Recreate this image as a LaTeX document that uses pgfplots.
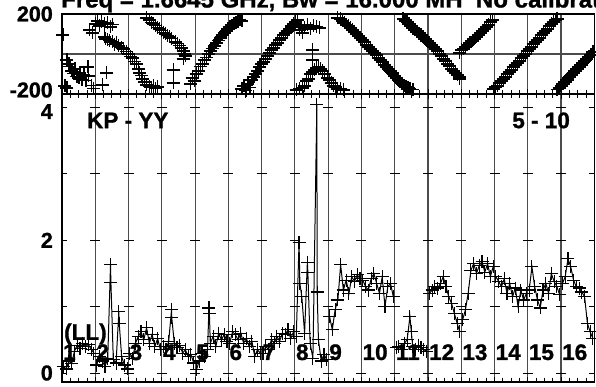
\documentclass[border=0pt]{standalone}
\usepackage{pgfplots}
\pgfplotsset{compat=1.18}
\usepackage{pgfplotstable}
\usepackage{fontspec}
\setmainfont{Liberation Sans}[BoldFeatures={FakeBold=1.2}]
\newcommand\lbl{\fontsize{22.5pt}{22.5pt}\selectfont\bfseries}
\newcommand\tck{\fontsize{21.5pt}{21.5pt}\selectfont\bfseries}
\newcommand\ttl{\fontsize{24pt}{24pt}\selectfont\bfseries}

\pgfplotstableread{
x y
0.03 95
0.09 -160
0.15 -30
0.15 -170
0.21 -50
0.24 -62
0.30 -85
0.36 -98
0.39 -75
0.45 -112
0.51 -120
0.54 -95
0.60 -127
0.66 -105
0.72 -132
0.78 -65
0.81 -110
0.90 -158
0.96 -172
0.84 120
0.93 105
1.02 150
1.08 165
1.14 140
1.20 160
1.29 150
1.38 155
1.47 135
1.53 147
1.23 -155
1.35 -95
1.32 75
1.29 85
1.38 72
1.44 68
1.53 60
1.59 48
1.65 55
1.71 40
1.80 33
1.86 25
1.95 12
2.01 0
2.07 -12
2.13 -20
2.19 -37
2.25 -50
2.31 -75
2.34 -95
2.40 -108
2.43 -125
2.49 -140
2.55 -155
2.62 -162
2.68 -166
2.74 -158
2.80 -172
2.86 -165
3.34 -80
3.34 -145
2.55 180
2.62 170
2.68 158
2.74 150
2.80 142
2.86 133
2.92 125
2.98 117
3.04 108
3.10 100
3.16 93
3.22 85
3.28 78
3.40 60
3.46 52
3.52 43
3.58 30
3.64 15
3.67 0
3.70 -10
3.64 -25
3.85 -150
3.91 -120
3.97 -135
4.03 -100
4.09 -85
4.15 -62
4.21 -50
4.27 -30
4.33 -18
4.39 0
4.45 15
4.51 27
4.57 40
4.63 55
4.69 68
4.75 80
4.81 95
4.87 105
4.93 117
4.99 125
5.05 135
5.11 142
5.17 150
5.23 157
5.29 162
5.35 170
5.41 165
5.41 -175
5.47 -160
5.53 -182
5.59 -150
5.65 -166
5.71 -130
5.77 -115
5.83 -100
5.89 -85
5.95 -65
6.01 -50
6.07 -40
6.13 -25
6.19 -10
6.25 5
6.31 20
6.37 30
6.43 45
6.49 55
6.55 70
6.61 80
6.67 95
6.73 105
6.79 115
6.85 125
6.91 140
6.97 150
7.03 160
7.09 170
6.94 135
7.03 150
7.15 120
7.21 140
7.30 130
7.39 145
7.48 125
7.57 140
7.66 135
7.75 130
7.24 105
7.54 20
7.54 -30
7.06 -180
7.15 -172
7.24 -170
7.30 -160
7.36 -135
7.42 -125
7.48 -100
7.54 -90
7.60 -80
7.66 -70
7.72 -65
7.78 -75
7.84 -85
7.90 -100
7.97 -120
8.03 -130
8.09 -145
8.15 -160
8.21 -165
8.27 -175
8.36 -175
8.45 -180
8.27 180
8.36 175
8.42 165
8.48 155
8.54 145
8.60 140
8.66 130
8.72 120
8.78 110
8.84 100
8.90 90
8.96 80
9.02 70
9.08 60
9.14 45
9.20 35
9.26 25
9.32 15
9.38 5
9.44 -5
9.50 -20
9.56 -30
9.62 -40
9.68 -55
9.74 -65
9.80 -75
9.86 -85
9.92 -95
9.98 -110
10.04 -120
10.10 -130
10.16 -140
10.22 -150
10.28 -160
10.34 -165
10.40 -170
10.46 -175
10.55 -178
10.25 175
10.31 165
10.37 160
10.43 150
10.49 140
10.55 130
10.61 120
10.67 110
10.73 100
10.79 95
10.85 85
10.91 75
10.97 65
11.04 55
11.10 45
11.16 35
11.22 25
11.28 15
11.34 0
11.40 -10
11.46 -25
11.52 -35
11.58 -50
11.64 -60
11.70 -75
11.76 -85
11.82 -95
11.88 -105
11.94 -115
11.96 -125
11.96 5
12.02 20
12.08 25
12.14 35
12.20 45
12.26 55
12.33 65
12.39 75
12.45 85
12.51 95
12.57 105
12.63 115
12.69 125
12.75 135
12.81 145
12.87 160
12.93 170
12.96 -175
13.02 -165
13.08 -160
13.14 -145
13.20 -135
13.26 -125
13.32 -115
13.38 -100
13.44 -90
13.50 -80
13.56 -65
13.62 -55
13.68 -45
13.74 -35
13.80 -20
13.86 -10
13.92 0
13.98 15
14.04 25
14.10 35
14.16 50
14.22 60
14.28 70
14.34 80
14.40 95
14.46 105
14.52 115
14.58 125
14.64 140
14.70 150
14.76 160
14.82 170
14.88 175
14.88 -178
14.94 -170
15.00 -160
15.06 -150
15.12 -140
15.18 -130
15.24 -115
15.30 -105
15.36 -95
15.42 -85
15.48 -75
15.54 -65
15.60 -55
15.66 -45
15.72 -35
15.78 -25
15.84 -15
15.90 -5
15.96 10
}\phase

\pgfplotstableread{
x y
0.042 0.10
0.125 0.06
0.208 0.18
0.292 0.14
0.375 0.33
0.458 0.42
0.542 0.37
0.625 0.45
0.708 0.40
0.792 0.43
0.875 0.36
0.958 0.30
1.000 nan
1.042 0.12
1.125 0.25
1.208 0.18
1.292 0.10
1.375 0.22
1.458 1.63
1.470 1.37
1.542 0.20
1.625 0.15
1.708 0.92
1.720 0.75
1.792 0.25
1.875 0.12
1.958 0.06
2.000 nan
2.042 0.30
2.125 0.22
2.208 0.45
2.292 0.55
2.375 0.62
2.458 0.50
2.542 0.68
2.625 0.45
2.708 0.58
2.792 0.40
2.875 0.52
2.958 0.35
3.000 nan
3.042 0.40
3.125 0.35
3.208 0.48
3.292 0.95
3.300 0.83
3.375 0.45
3.458 0.38
3.542 0.42
3.625 0.30
3.708 0.35
3.792 0.25
3.875 0.28
3.958 0.15
4.000 nan
4.042 0.05
4.125 0.18
4.208 0.30
4.292 0.25
4.375 0.35
4.417 0.98
4.430 0.90
4.458 0.45
4.542 0.55
4.625 0.40
4.708 0.60
4.792 0.50
4.875 0.58
4.958 0.48
5.000 nan
5.042 0.45
5.125 0.62
5.208 0.58
5.292 0.50
5.375 0.60
5.458 0.45
5.542 0.52
5.625 0.40
5.708 0.48
5.792 0.25
5.875 0.35
5.958 0.30
6.000 nan
6.042 0.30
6.125 0.40
6.208 0.35
6.292 0.50
6.375 0.45
6.458 0.55
6.542 0.48
6.625 0.60
6.708 0.58
6.792 0.65
6.875 0.52
6.958 0.62
7.000 nan
7.042 0.55
7.125 1.97
7.150 1.35
7.208 1.15
7.292 0.60
7.375 1.67
7.390 1.52
7.458 0.45
7.542 0.22
7.660 4.04
7.670 1.22
7.708 0.50
7.792 0.18
7.875 0.28
7.958 0.20
8.000 nan
8.042 0.85
8.125 0.65
8.208 0.95
8.292 1.10
8.375 1.63
8.458 1.25
8.542 1.40
8.625 1.20
8.708 1.45
8.792 1.38
8.875 1.48
8.958 1.42
9.000 nan
9.042 1.40
9.125 1.30
9.208 1.25
9.292 1.42
9.375 1.50
9.458 1.35
9.542 1.20
9.625 1.45
9.708 1.00
9.792 1.30
9.875 1.35
9.958 1.15
10.000 nan
10.042 0.38
10.125 0.40
10.208 0.35
10.292 0.45
10.375 0.50
10.458 0.85
10.500 0.62
10.542 0.40
10.625 0.35
10.708 0.42
10.792 0.38
10.875 0.35
10.958 0.33
11.000 nan
11.042 1.20
11.125 1.25
11.208 1.30
11.292 1.28
11.375 1.35
11.458 1.45
11.542 1.30
11.625 1.15
11.708 1.05
11.792 0.90
11.875 0.75
11.958 0.62
12.000 nan
12.042 0.80
12.125 0.95
12.208 1.20
12.292 1.55
12.375 1.65
12.458 1.50
12.542 1.62
12.625 1.68
12.708 1.52
12.792 1.65
12.875 1.45
12.958 1.60
13.000 nan
13.042 1.45
13.125 1.38
13.208 1.30
13.292 1.42
13.375 1.20
13.458 1.35
13.542 1.15
13.625 1.28
13.708 1.00
13.792 1.25
13.875 1.10
13.958 1.20
14.000 nan
14.042 1.25
14.125 1.60
14.208 1.30
14.292 1.10
14.375 0.98
14.458 1.25
14.542 1.35
14.625 1.20
14.708 1.50
14.792 1.38
14.875 1.30
14.958 1.18
15.000 nan
15.042 1.35
15.125 1.45
15.208 1.72
15.292 1.60
15.375 1.40
15.458 1.30
15.542 1.28
15.625 1.22
15.708 1.15
15.792 0.75
15.875 0.62
15.958 0.52
}\amp

\pgfplotsset{
  panel/.style={
    scale only axis, width=532.3pt,
    xmin=0, xmax=16, xtick={0,...,16}, xticklabels={},
    minor x tick num=3,
    xmajorgrids,
    major grid style={black!70, line width=1.1pt},
    axis line style={black, line width=1.2pt},
    tick style={black, line width=0.9pt},
    major tick length=5pt, minor tick length=4pt,
    tick align=inside,
    yticklabel style={font=\tck, inner sep=0pt, xshift=-9pt},
  }
}

\begin{document}
\begin{tikzpicture}
\begin{axis}[panel, at={(62pt,292pt)}, anchor=south west, height=80pt,
  ymin=-200, ymax=200, ytick={-200,0,200},
  yticklabels={\raisebox{4pt}[\height][\depth]{-200},,200},
  ymajorgrids, ytick style={draw=none}, xtick pos=left]
\addplot[only marks, mark=+, mark size=6.5pt, black, mark options={line width=1.1pt}] table {\phase};
\end{axis}
\begin{axis}[panel, at={(62pt,4pt)}, anchor=south west, height=287.5pt,
  ymin=-0.136, ymax=4.197, ytick={0,1,2,3,4},
  yticklabels={0,,2,,\raisebox{-4pt}[\height][\depth]{4}},
  xtick pos=both, ytick pos=both, unbounded coords=jump]
\addplot[black, line width=1pt, mark=+, mark size=6.5pt, mark options={line width=1.1pt}] table {\amp};
\pgfplotsinvokeforeach{1,...,15}{
  \draw[black, line width=0.9pt] ([xshift=-5pt]axis cs:#1,0) -- ([xshift=5pt]axis cs:#1,0);
  \draw[black, line width=0.9pt] ([xshift=-5pt]axis cs:#1,1) -- ([xshift=5pt]axis cs:#1,1);
  \draw[black, line width=0.9pt] ([xshift=-5pt]axis cs:#1,2) -- ([xshift=5pt]axis cs:#1,2);
  \draw[black, line width=0.9pt] ([xshift=-5pt]axis cs:#1,3) -- ([xshift=5pt]axis cs:#1,3);
  \draw[black, line width=0.9pt] ([xshift=-5pt]axis cs:#1,4) -- ([xshift=5pt]axis cs:#1,4);
}
\node[anchor=base west, inner sep=0pt, font=\lbl] at (axis cs:0.75,3.69) {KP - YY};
\node[anchor=base west, inner sep=0pt, font=\lbl] at (axis cs:13.53,3.69) {5 - 10};
\node[anchor=base west, inner sep=0pt, font=\lbl] at (axis cs:0.06,0.50) {(LL)};
\pgfplotsinvokeforeach{1,...,16}{
  \node[anchor=base west, inner sep=0pt, font=\lbl] at ([xshift=-32.3pt]axis cs:#1,0.196) {#1};
}
\end{axis}
\node[anchor=base west, inner sep=0pt, font=\ttl] at (61pt,378.5pt) {Freq = 1.6645 GHz, Bw = 16.000 MH\ \ No calibration};
\pgfresetboundingbox
\path[use as bounding box] (0,0) rectangle (596pt,386pt);
\end{tikzpicture}
\end{document}
